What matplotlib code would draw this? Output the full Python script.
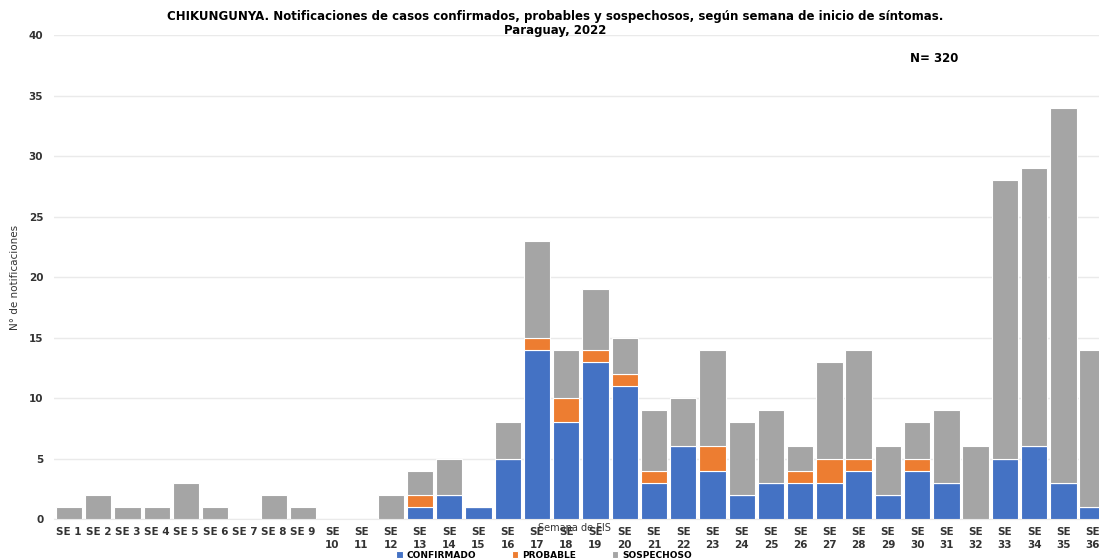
import matplotlib
matplotlib.use("Agg")
import matplotlib.pyplot as plt
import numpy as np

# Semana de inicio de sintomas (SE 1 - SE 36)
semanas = ["SE 1", "SE 2", "SE 3", "SE 4", "SE 5", "SE 6", "SE 7", "SE 8", "SE 9"] + \
          ["SE\n%d" % i for i in range(10, 37)]
confirmado = [0, 0, 0, 0, 0, 0, 0, 0, 0, 0, 0, 0, 1, 2, 1, 5, 14, 8, 13, 11, 3, 6,
              4, 2, 3, 3, 3, 4, 2, 4, 3, 0, 5, 6, 3, 1]
probable = [0, 0, 0, 0, 0, 0, 0, 0, 0, 0, 0, 0, 1, 0, 0, 0, 1, 2, 1, 1, 1, 0,
            2, 0, 0, 1, 2, 1, 0, 1, 0, 0, 0, 0, 0, 0]
sospechoso = [1, 2, 1, 1, 3, 1, 0, 2, 1, 0, 0, 2, 2, 3, 0, 3, 8, 4, 5, 3, 5, 4,
              8, 6, 6, 2, 8, 9, 4, 3, 6, 6, 23, 23, 31, 13]

c_conf = "#4472C4"
c_prob = "#ED7D31"
c_sosp = "#A5A5A5"

fig = plt.figure(figsize=(10.99, 5.6), dpi=100)
ax = fig.add_axes([0.0495, 0.0732, 0.958, 0.8643])

x = np.arange(len(semanas))
conf = np.array(confirmado)
prob = np.array(probable)
sosp = np.array(sospechoso)

ax.bar(x, conf, width=0.9, color=c_conf, edgecolor="white", linewidth=0.8, label="CONFIRMADO", zorder=3)
ax.bar(x, prob, width=0.9, bottom=conf, color=c_prob, edgecolor="white", linewidth=0.8, label="PROBABLE", zorder=3)
ax.bar(x, sosp, width=0.9, bottom=conf + prob, color=c_sosp, edgecolor="white", linewidth=0.8, label="SOSPECHOSO", zorder=3)

ax.set_xlim(-0.5, len(semanas) - 0.5)
ax.set_ylim(0, 40)
ax.set_yticks(range(0, 41, 5))
ax.yaxis.grid(True, color="#EAEAEA", linewidth=1, zorder=0)
ax.set_axisbelow(True)
for s in ["top", "right", "left"]:
    ax.spines[s].set_visible(False)
ax.spines["bottom"].set_color("#EAEAEA")
ax.tick_params(axis="both", length=0)
ax.tick_params(axis="y", pad=8)
ax.tick_params(axis="x", pad=6)

ax.set_xticks(x)
ax.set_xticklabels(semanas, fontsize=7.5, fontweight="bold", color="#333333", linespacing=1.3)
for lab in ax.get_yticklabels():
    lab.set_fontsize(7.5)
    lab.set_fontweight("bold")
    lab.set_color("#333333")

ax.set_ylabel("N° de notificaciones", fontsize=7.5, color="#333333", labelpad=6)
ax.yaxis.set_label_coords(-0.033, 0.5)

fig.text(0.505, 0.958, "CHIKUNGUNYA. Notificaciones de casos confirmados, probables y sospechosos, "
         "según semana de inicio de síntomas.\nParaguay, 2022", ha="center", va="center",
         fontsize=8.5, fontweight="bold", linespacing=1.1)
fig.text(0.85, 0.896, "N= 320", fontsize=8.5, fontweight="bold", ha="center", va="center")
fig.text(0.523, 0.058, "Semana de FIS", fontsize=7, color="#333333", ha="center", va="center")

fig.legend(loc="lower center", bbox_to_anchor=(0.495, -0.014), ncol=3, frameon=False,
           handlelength=0.7, handleheight=0.7, columnspacing=4, handletextpad=0.4,
           prop={"weight": "bold", "size": 6.5})

fig.savefig("out.png", dpi=100)
